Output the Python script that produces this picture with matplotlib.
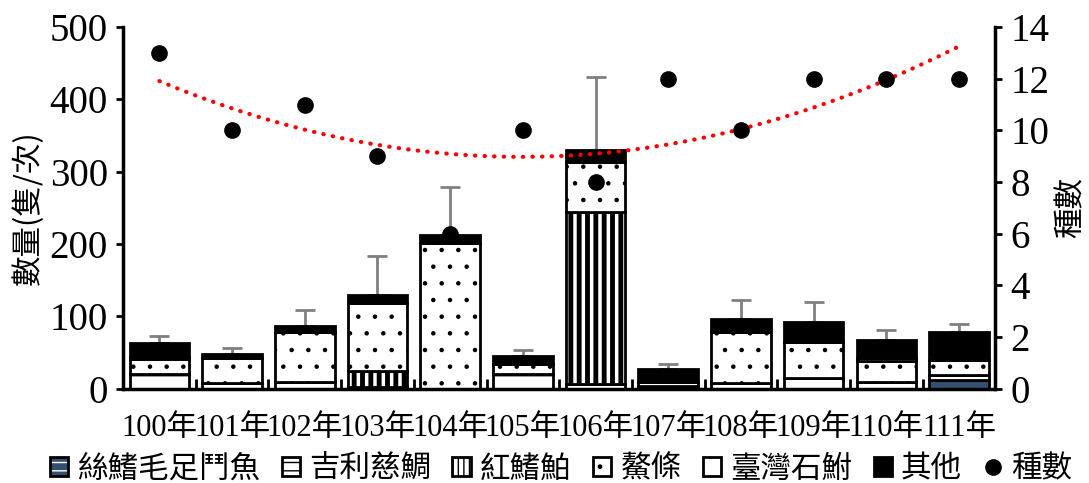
import numpy as np
import matplotlib
matplotlib.use('Agg')
import matplotlib.pyplot as plt
from matplotlib.patches import Patch

plt.rcParams['font.family'] = ['Liberation Serif', 'Noto Sans CJK TC']

# data
years = ['100年', '101年', '102年', '103年', '104年', '105年',
         '106年', '107年', '108年', '109年', '110年', '111年']
sp_names = ['絲鰭毛足鬥魚', '吉利慈鯛', '紅鰭鮊', '鰲條', '臺灣石鮒', '其他']
siqi = [0, 0, 0, 0, 0, 0, 0, 0, 0, 0, 0, 12]
jili = [20, 8, 10, 3, 0, 20, 6, 4, 8, 15, 10, 7]
hongqi = [0, 0, 0, 21, 0, 0, 239, 0, 0, 0, 0, 0]
aotiao = [21, 34, 68, 95, 202, 14, 69, 0, 71, 50, 29, 21]
taiwan = [3, 0, 0, 0, 0, 0, 0, 6, 0, 0, 4, 0]
other = [20, 6, 9, 10, 11, 12, 16, 18, 17, 27, 25, 38]
err = [9, 8, 22, 54, 66, 7, 101, 6, 27, 28, 13, 11]
species_n = [13, 10, 11, 9, 6, 10, 8, 12, 10, 12, 12, 12]

series = [siqi, jili, hongqi, aotiao, taiwan, other]
faces = ['#34506e', 'white', 'white', 'white', 'white', 'black']
hatches = ['-', '-', '||', '.', '', '']
leg_hatches = ['--', '--', '|||', '.', '', '']
hatch_cols = ['white', 'black', 'black', 'black', 'black', 'black']
hatch_lw = [2.0, 2.0, 3.5, 0.8, 1.0, 1.0]


def set_hatch(p, hc, hl):
    p._hatch_color = matplotlib.colors.to_rgba(hc)
    if hasattr(p, 'set_hatch_linewidth'):
        p.set_hatch_linewidth(hl)


fig = plt.figure(figsize=(10.89, 4.83), dpi=100)
ax = fig.add_axes([0.113, 0.195, 0.801, 0.749])
x = np.arange(len(years))
bottom = np.zeros(len(years))
handles = []
for vals, fc, h, lh, hc, hl, name in zip(series, faces, hatches, leg_hatches,
                                         hatch_cols, hatch_lw, sp_names):
    vals = np.array(vals, dtype=float)
    plt.rcParams['hatch.linewidth'] = hl
    bars = ax.bar(x, vals, 0.82, bottom=bottom, color=fc, hatch=h,
                  edgecolor='black', linewidth=2, label=name, zorder=2)
    for b in bars:
        set_hatch(b, hc, hl)
    hp = Patch(facecolor=fc, edgecolor='black', hatch=lh, linewidth=2)
    set_hatch(hp, hc, min(hl, 2.0))
    handles.append(hp)
    bottom += vals

ax.errorbar(x, bottom, yerr=[np.zeros(len(years)), err], fmt='none',
            ecolor='#808080', elinewidth=2, capsize=7, capthick=2, zorder=1)

ax.set_xlim(-0.5, len(years) - 0.5)
ax.set_ylim(0, 500)
ax.set_yticks(range(0, 501, 100))
ax.set_xticks(x)
ax.set_xticklabels(years)
ax.set_xticks(np.arange(-0.5, len(years), 1), minor=True)
ax.tick_params(axis='x', which='major', length=0, labelsize=22, pad=18)
ax.tick_params(axis='x', which='minor', length=7, width=2, direction='in')
ax.tick_params(axis='y', labelsize=28, length=5, width=2, pad=6)
ax.set_ylabel('數量(隻/次)', fontsize=22, family=['Noto Sans CJK TC'], labelpad=4)
for s in ['left', 'bottom']:
    ax.spines[s].set_linewidth(2.5)
ax.spines['top'].set_visible(False)
ax.spines['right'].set_visible(False)

ax2 = ax.twinx()
ax2.set_ylim(0, 14)
ax2.set_yticks(range(0, 15, 2))
ax2.tick_params(axis='y', labelsize=28, length=5, width=2, pad=6)
ax2.spines['right'].set_linewidth(2.5)
ax2.spines['top'].set_visible(False)
ax2.spines['left'].set_visible(False)
ax2.spines['bottom'].set_visible(False)
ax2.set_ylabel('種數', fontsize=22, family=['Noto Sans CJK TC'], labelpad=4)

dots, = ax2.plot(x, species_n, 'o', color='black', ms=11, label='種數', zorder=4)
coef = np.polyfit(x, species_n, 2)
xt = np.linspace(x[0], x[-1], 200)
ax2.plot(xt, np.polyval(coef, xt), color='red', lw=3,
         linestyle=(0, (0.1, 2.2)), dash_capstyle='round', zorder=3)

leg = fig.legend(handles + [dots], sp_names + ['種數'], loc='lower center',
                 bbox_to_anchor=(0.515, -0.06), ncol=7, frameon=False,
                 prop={'family': ['Noto Sans CJK TC'], 'size': 22},
                 handlelength=0.6, handleheight=0.6, handletextpad=0.3,
                 columnspacing=0.7)

fig.savefig('out.png', dpi=100)
